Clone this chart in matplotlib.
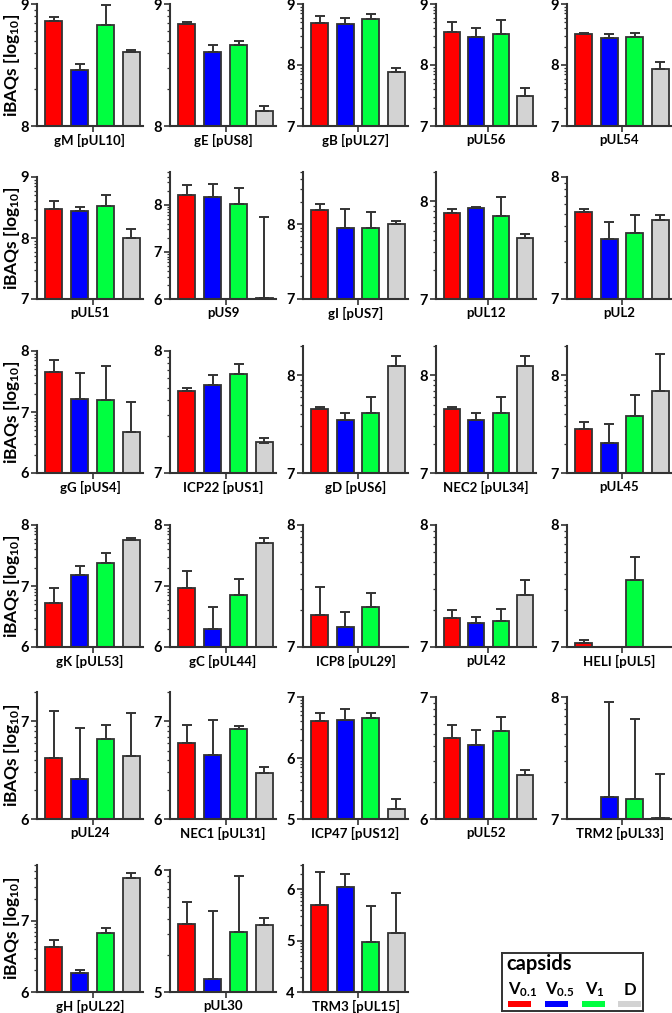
import numpy as np
import matplotlib
matplotlib.use("Agg")
import matplotlib.pyplot as plt
from matplotlib.patches import Rectangle

plt.rcParams['font.family'] = ['Lato', 'DejaVu Sans']
plt.rcParams['font.weight'] = 'bold'
plt.rcParams['mathtext.fontset'] = 'custom'
plt.rcParams['mathtext.rm'] = 'Lato:bold'
plt.rcParams['mathtext.bf'] = 'Lato:bold'
plt.rcParams['mathtext.it'] = 'Lato:bold'

nan = np.nan

capsids = ["V$_{0.1}$", "V$_{0.5}$", "V$_{1}$", "D"]
colors = ["#FF0000", "#0000FF", "#00FF40", "#D3D3D3"]

proteins = [
    "gM [pUL10]", "gE [pUS8]", "gB [pUL27]", "pUL56", "pUL54",
    "pUL51", "pUS9", "gI [pUS7]", "pUL12", "pUL2",
    "gG [pUS4]", "ICP22 [pUS1]", "gD [pUS6]", "NEC2 [pUL34]", "pUL45",
    "gK [pUL53]", "gC [pUL44]", "ICP8 [pUL29]", "pUL42", "HELI [pUL5]",
    "pUL24", "NEC1 [pUL31]", "ICP47 [pUS12]", "pUL52", "TRM2 [pUL33]",
    "gH [pUL22]", "pUL30", "TRM3 [pUL15]",
]

# mean log10 iBAQ per capsid type (V0.1, V0.5, V1, D)
means = [
    [8.86, 8.46, 8.83, 8.61], [8.84, 8.61, 8.66, 8.12], [8.69, 8.67, 8.75, 7.89],
    [8.54, 8.46, 8.50, 7.49], [8.51, 8.44, 8.46, 7.93],
    [8.47, 8.45, 8.53, 8.00], [8.20, 8.16, 8.01, 6.02], [8.19, 7.95, 7.95, 8.00],
    [7.88, 7.93, 7.85, 7.62], [7.71, 7.49, 7.54, 7.65],
    [7.65, 7.21, 7.19, 6.67], [7.67, 7.72, 7.81, 7.25], [7.66, 7.54, 7.61, 8.10],
    [7.66, 7.54, 7.61, 8.10], [7.45, 7.31, 7.58, 7.84],
    [6.72, 7.18, 7.38, 7.75], [6.96, 6.30, 6.85, 7.70], [7.26, 7.16, 7.33, nan],
    [7.24, 7.20, 7.21, 7.43], [7.035, nan, 7.55, nan],
    [6.62, 6.41, 6.82, 6.65], [6.78, 6.66, 6.92, 6.47], [6.61, 6.62, 6.66, 5.17],
    [6.66, 6.61, 6.72, 6.36], [nan, 7.18, 7.16, 7.01],
    [6.63, 6.27, 6.83, 7.59], [5.56, 5.11, 5.49, 5.55], [5.70, 6.04, 4.97, 5.15],
]

# standard deviations (upper error bars)
errors = [
    [0.03, 0.05, 0.16, 0.01], [0.01, 0.05, 0.04, 0.04], [0.12, 0.10, 0.09, 0.06],
    [0.17, 0.15, 0.24, 0.14], [0.01, 0.07, 0.06, 0.12],
    [0.13, 0.05, 0.18, 0.14], [0.22, 0.28, 0.34, 1.72], [0.08, 0.26, 0.21, 0.05],
    [0.04, 0.01, 0.19, 0.05], [0.03, 0.14, 0.15, 0.04],
    [0.21, 0.43, 0.57, 0.50], [0.03, 0.08, 0.08, 0.04], [0.02, 0.07, 0.17, 0.10],
    [0.02, 0.07, 0.17, 0.10], [0.07, 0.19, 0.22, 0.38],
    [0.25, 0.14, 0.16, 0.04], [0.28, 0.36, 0.26, 0.08], [0.23, 0.13, 0.11, nan],
    [0.06, 0.05, 0.10, 0.12], [0.025, nan, 0.19, nan],
    [0.49, 0.52, 0.14, 0.44], [0.18, 0.35, 0.03, 0.06], [0.13, 0.18, 0.07, 0.16],
    [0.11, 0.12, 0.12, 0.04], [nan, 0.78, 0.66, 0.36],
    [0.10, 0.04, 0.07, 0.08], [0.18, 0.55, 0.46, 0.06], [0.65, 0.26, 0.71, 0.78],
]

y_lower = [8, 8, 7, 7, 7,
           7, 6, 7, 7, 7,
           6, 7, 7, 7, 7,
           6, 6, 7, 7, 7,
           6, 6, 5, 6, 7,
           6, 5, 4]
y_upper = [9, 9, 9, 9, 9,
           9, np.log10(5e8), np.log10(5e8), np.log10(2e8), 8,
           8, 8, np.log10(2e8), np.log10(2e8), np.log10(2e8),
           8, 8, 8, 8, 8,
           np.log10(2e7), np.log10(2e7), 7, 7, 8,
           np.log10(6e7), 6, np.log10(3e6)]

W, H = 672, 1013
fig = plt.figure(figsize=(W / 100, H / 100), dpi=100)

col_left = [37, 170, 303, 436, 567]
col_width = [106, 106, 105, 100, 105]
row_bottom = [126, 299, 473, 647, 819, 992]

edge = "#333333"
x = np.arange(4)

for i, name in enumerate(proteins):
    r, c = divmod(i, 5)
    lo, hi = y_lower[i], y_upper[i]
    is_int = abs(hi - round(hi)) < 1e-9
    h = 122 if is_int else 127
    ax = fig.add_axes([col_left[c] / W, (H - row_bottom[r]) / H, col_width[c] / W, h / H])
    vals = np.array(means[i], dtype=float)
    errs = np.array(errors[i], dtype=float)
    for j in range(4):
        if np.isnan(vals[j]):
            continue
        ax.bar(x[j], vals[j] - lo, bottom=lo, width=0.66, color=colors[j],
               edgecolor=edge, linewidth=1.3, zorder=2)
        ax.errorbar(x[j], vals[j], yerr=[[0], [errs[j]]], fmt='none',
                    ecolor=edge, elinewidth=1.4, capsize=3.3, capthick=1.4, zorder=3)
    ax.set_xlim(-0.65, 3.45)
    ax.set_ylim(lo, hi)
    for s in ['top', 'right']:
        ax.spines[s].set_visible(False)
    for s in ['left', 'bottom']:
        ax.spines[s].set_color(edge)
        ax.spines[s].set_linewidth(1.5)
    majors = list(range(int(np.ceil(lo - 1e-9)), int(np.floor(hi + 1e-9)) + 1))
    ax.set_yticks(majors)
    ax.set_yticklabels([str(m) for m in majors])
    minors = []
    for d in range(int(lo), int(np.ceil(hi))):
        for k in range(2, 10):
            v = d + np.log10(k)
            if lo < v <= hi + 1e-9:
                minors.append(v)
    ax.set_yticks(minors, minor=True)
    ax.set_xticks([1.5])
    ax.set_xticklabels([""])
    ax.tick_params(axis='y', which='major', length=4, width=1.2, color=edge,
                   labelsize=10.5, pad=2)
    ax.tick_params(axis='y', which='minor', length=2.2, width=0.9, color=edge)
    ax.tick_params(axis='x', which='major', length=4, width=1.2, color=edge, pad=0)
    for lab in ax.get_yticklabels():
        lab.set_fontweight('bold')
    ax.set_xlabel(name, fontsize=9.5, fontweight='bold', labelpad=1.5)
    if c == 0:
        ycen = (H - row_bottom[r] + h / 2) / H
        fig.text(12 / W, ycen, r"iBAQs [log$_{10}$]", rotation=90, ha='center',
                 va='center', fontsize=12.5, fontweight='bold')

# legend box
lx0, lx1, ly0, ly1 = 502, 643, 953, 1011
lax = fig.add_axes([lx0 / W, (H - ly1) / H, (lx1 - lx0) / W, (ly1 - ly0) / H])
lax.set_xlim(0, lx1 - lx0)
lax.set_ylim(ly1 - ly0, 0)
lax.set_xticks([])
lax.set_yticks([])
for s in lax.spines.values():
    s.set_linewidth(1.4)
    s.set_color(edge)
lax.text(4, 11, "capsids", fontsize=14.5, fontweight='bold', va='center', ha='left')
patch_x = [6, 43, 80, 116]
label_x = [6, 43, 83, 122]
for j in range(4):
    lax.add_patch(Rectangle((patch_x[j], 48), 23, 6, facecolor=colors[j], edgecolor='none'))
    lax.text(label_x[j], 37, capsids[j], fontsize=12, fontweight='bold',
             va='center', ha='left')

fig.savefig("out.png", dpi=100)
